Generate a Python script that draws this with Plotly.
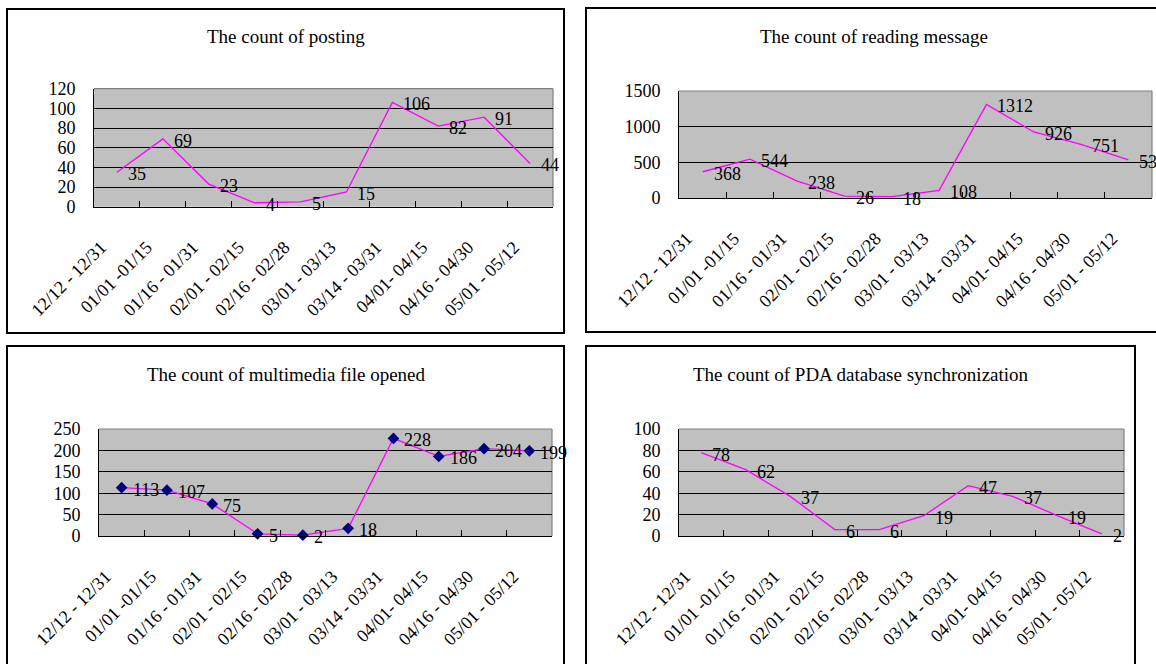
import plotly.graph_objects as go

# Half-month reporting periods
periods = ["12/12 - 12/31", "01/01 -01/15", "01/16 - 01/31", "02/01 - 02/15",
           "02/16 - 02/28", "03/01 - 03/13", "03/14 - 03/31", "04/01- 04/15",
           "04/16 - 04/30", "05/01 - 05/12"]

posting = [35, 69, 23, 4, 5, 15, 106, 82, 91, 44]
reading = [368, 544, 238, 26, 18, 108, 1312, 926, 751, 535]
multimedia = [113, 107, 75, 5, 2, 18, 228, 186, 204, 199]
pda_sync = [78, 62, 37, 6, 6, 19, 47, 37, 19, 2]

titles = ["The count of posting", "The count of reading message",
          "The count of multimedia file opened",
          "The count of PDA database synchronization"]
y_max = [120, 1500, 250, 100]
y_step = [20, 500, 50, 20]

W, H = 1156, 664
FONT = "Liberation Serif"
LINE = "#FF00FF"


def fx(px):
    return px / W


def fy(py):
    return 1 - py / H


# pixel boxes: plot area (x0, x1, top, bottom), frame (x0, top, x1, bottom), title (cx, cy)
panels = [
    dict(plot=(94, 553, 88.7, 206.7), frame=(7, 9, 564, 333), title=(286, 36)),
    dict(plot=(679, 1152, 91, 198), frame=(586, 8, 1162, 332), title=(874, 36)),
    dict(plot=(99, 552, 429, 536), frame=(7, 346, 564, 700), title=(286, 374)),
    dict(plot=(679, 1124, 429, 536), frame=(586, 346, 1135, 700), title=(861, 374)),
]
series = [posting, reading, multimedia, pda_sync]

fig = go.Figure()
shapes = []
annotations = []
layout = {}

for i, (p, vals) in enumerate(zip(panels, series)):
    n = "" if i == 0 else str(i + 1)
    xa, ya = "x" + n, "y" + n
    x0, x1, top, bot = p["plot"]

    marker_mode = "lines+markers" if i == 2 else "lines"
    fig.add_trace(go.Scatter(
        x=periods, y=vals, mode=marker_mode, xaxis=xa, yaxis=ya,
        line=dict(color=LINE, width=1.3),
        marker=dict(symbol="diamond", size=9, color="#000080"),
        showlegend=False, hoverinfo="skip", cliponaxis=False,
    ))

    layout["xaxis" + n] = dict(
        domain=[fx(x0), fx(x1)], anchor=ya, type="category", automargin=False,
        range=[-0.5, len(periods) - 0.5],
        tickangle=-45, ticks="inside", tickson="boundaries", ticklen=6,
        tickcolor="black", showline=True, linecolor="black", linewidth=1,
        showgrid=False, zeroline=False,
        tickfont=dict(family=FONT, size=18, color="black"),
        ticklabelshift=-16, ticklabelstandoff=22,
    )
    layout["yaxis" + n] = dict(
        domain=[fy(bot), fy(top)], anchor=xa, automargin=False,
        range=[0, y_max[i]], dtick=y_step[i], tick0=0,
        ticks="inside", ticklen=6, tickcolor="black",
        showline=True, linecolor="black", linewidth=1,
        showgrid=True, gridcolor="black", gridwidth=1, zeroline=False,
        tickfont=dict(family=FONT, size=18, color="black"),
        ticklabelstandoff=14,
    )

    # grey top and right edges of the plot area
    shapes.append(dict(type="line", xref="paper", yref="paper", layer="between",
                       x0=fx(x0), x1=fx(x1), y0=fy(top), y1=fy(top),
                       line=dict(color="#808080", width=1.2)))
    shapes.append(dict(type="line", xref="paper", yref="paper", layer="between",
                       x0=fx(x1), x1=fx(x1), y0=fy(top), y1=fy(bot),
                       line=dict(color="#808080", width=1.2)))

    # chart frame
    fx0, ftop, fx1, fbot = p["frame"]
    shapes.append(dict(type="rect", xref="paper", yref="paper",
                       x0=fx(fx0), x1=fx(fx1), y0=fy(fbot), y1=fy(ftop),
                       line=dict(color="black", width=2)))

    cx, cy = p["title"]
    annotations.append(dict(text=titles[i], x=fx(cx), y=fy(cy), xref="paper", yref="paper",
                            xanchor="center", yanchor="middle", showarrow=False,
                            font=dict(family=FONT, size=19, color="black")))

    # value labels to the right of each point
    for cat, v in zip(periods, vals):
        annotations.append(dict(text=str(v), x=cat, y=v, xref=xa, yref=ya,
                                xanchor="left", yanchor="middle", showarrow=False,
                                xshift=9, yshift=-2,
                                font=dict(family=FONT, size=18, color="black")))

fig.update_layout(
    template="none",
    width=W, height=H, margin=dict(l=0, r=0, t=0, b=0, autoexpand=False),
    paper_bgcolor="white", plot_bgcolor="#C0C0C0",
    shapes=shapes, annotations=annotations, **layout,
)

fig.write_html("out.html")
